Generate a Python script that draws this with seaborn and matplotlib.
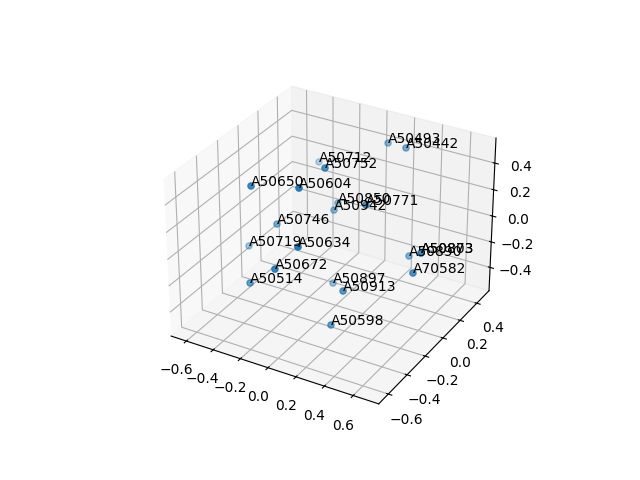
import matplotlib
matplotlib.use("Agg")
import matplotlib.pyplot as plt
import pandas as pd
import seaborn as sns

names = ["A50493", "A50442", "A50712", "A50752", "A50650", "A50604", "A50850", "A50771",
         "A50942", "A50746", "A50719", "A50634", "A50672", "A50514", "A50897", "A50913",
         "A50598", "A70582", "A50890", "A50873", "A50803"]
xs = [0.065, 0.22, -0.404, -0.077, -0.403, -0.09, -0.138, 0.199,
      -0.123, -0.377, -0.604, 0.018, -0.134, -0.362, -0.043, 0.186,
      0.137, 0.562, 0.383, 0.505, 0.478]
ys = [0.465, 0.426, 0.402, -0.003, -0.294, -0.249, 0.222, 0.023,
      0.158, -0.081, -0.066, -0.415, -0.436, -0.379, 0.031, -0.196,
      -0.252, -0.015, 0.225, 0.165, 0.21]
zs = [0.404, 0.431, 0.167, 0.444, 0.389, 0.437, 0.031, 0.234,
      0.02, -0.017, -0.264, 0.138, -0.06, -0.275, -0.443, -0.282,
      -0.523, -0.144, -0.224, -0.125, -0.162]

df = pd.DataFrame({"name": names, "x": xs, "y": ys, "z": zs})
color = sns.color_palette("tab10")[0]

fig = plt.figure(figsize=(6.4, 4.8), dpi=100)
ax = fig.add_subplot(projection="3d")
ax.scatter(df["x"], df["y"], df["z"], color=color)
for row in df.itertuples():
    ax.text(row.x, row.y, row.z, row.name)

ax.set_xlim(-0.715, 0.775)
ax.set_ylim(-0.70, 0.55)
ax.set_zlim(-0.585, 0.585)

plt.savefig("out.png")
